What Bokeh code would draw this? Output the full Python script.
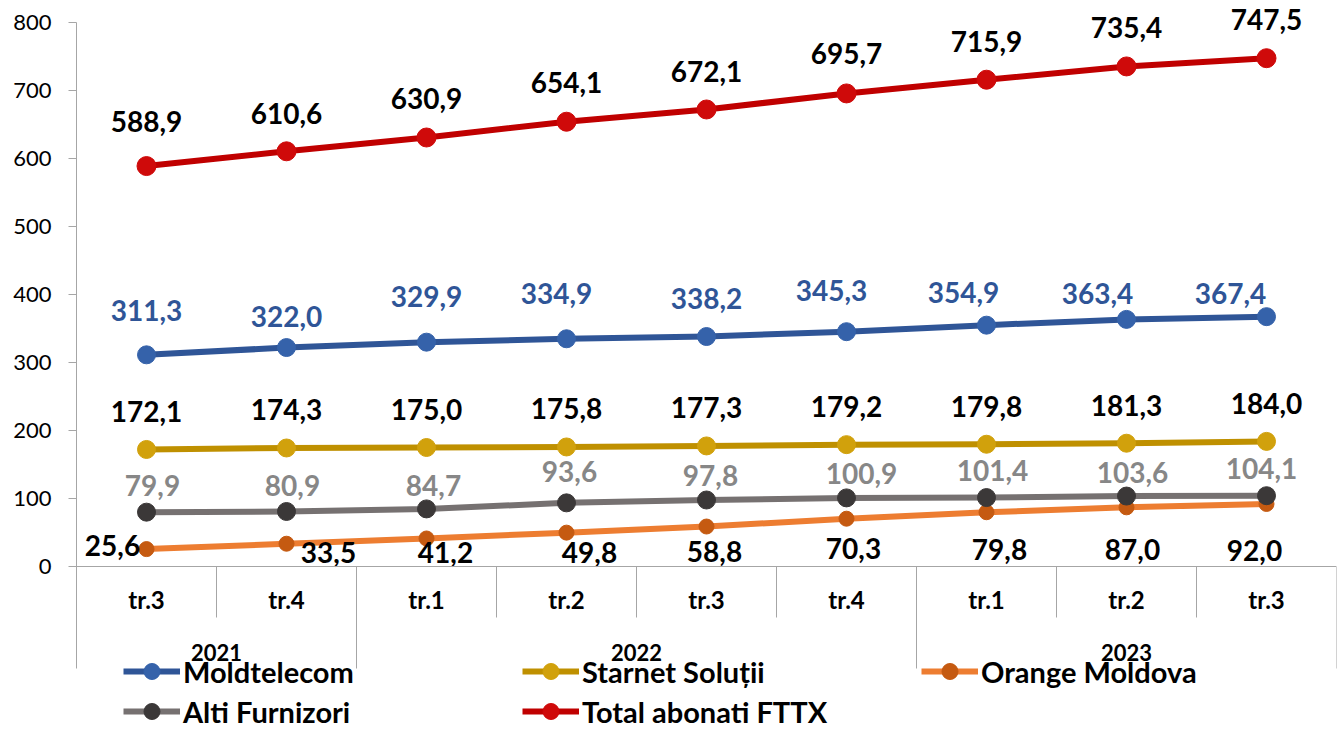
from bokeh.plotting import figure
from bokeh.models import (FactorRange, FixedTicker, ColumnDataSource, Legend,
                          LegendItem, Range1d)
from bokeh.core.properties import value
from bokeh.embed import file_html
from bokeh.resources import INLINE

# ---------------- data ----------------
years = ["2021", "2021", "2022", "2022", "2022", "2022", "2023", "2023", "2023"]
quarters = ["tr.3", "tr.4", "tr.1", "tr.2", "tr.3", "tr.4", "tr.1", "tr.2", "tr.3"]
year_labels = ["2021", "2022", "2023"]

moldtelecom = [311.3, 322.0, 329.9, 334.9, 338.2, 345.3, 354.9, 363.4, 367.4]
starnet = [172.1, 174.3, 175.0, 175.8, 177.3, 179.2, 179.8, 181.3, 184.0]
orange = [25.6, 33.5, 41.2, 49.8, 58.8, 70.3, 79.8, 87.0, 92.0]
alti = [79.9, 80.9, 84.7, 93.6, 97.8, 100.9, 101.4, 103.6, 104.1]
total = [588.9, 610.6, 630.9, 654.1, 672.1, 695.7, 715.9, 735.4, 747.5]

series_names = ["Moldtelecom", "Starnet Soluții", "Orange Moldova",
                "Alti Furnizori", "Total abonati FTTX"]
y_ticks = [0, 100, 200, 300, 400, 500, 600, 700, 800]

# ---------------- style ----------------
FONT = "Lato"
AXIS_GRAY = "#A6A6A6"
W, H = 1341, 729
FRAME_LEFT, FRAME_RIGHT_BORDER = 76, 5
Y0_PX, PX_PER_UNIT = 566, 0.68            # pixel row of value 0, pixels per unit
styles = {
    "Moldtelecom": dict(line="#2F5597", marker="#3562AA", label="#2F5597", lw=6, size=18,
                        dx=[0, 0, 0, -10, 0, -15, -23, -29, -36],
                        dy=[-44, -31, -46, -45, -38, -41, -33, -26, -23]),
    "Starnet Soluții": dict(line="#BF9000", marker="#D1A10C", label="#000000", lw=6, size=18,
                            dx=[0] * 9, dy=[-38] * 9),
    "Orange Moldova": dict(line="#ED7D31", marker="#C55A11", label="#000000", lw=6, size=15,
                           dx=[-34, 42, 19, 23, 8, 7, 13, 6, -12],
                           dy=[-4, 9, 14, 20, 25, 30, 37, 42, 47]),
    "Alti Furnizori": dict(line="#767171", marker="#3B3838", label="#878787", lw=6, size=18,
                           dx=[6, 6, 7, 3, 4, 15, 6, 6, -5],
                           dy=[-27, -26, -23, -31, -24, -24, -27, -24, -27]),
    "Total abonati FTTX": dict(line="#C00000", marker="#CF0A0A", label="#000000", lw=6, size=19,
                               dx=[0] * 9,
                               dy=[-45, -38, -39, -39, -38, -40, -38, -39, -39]),
}
BOX_BOTTOM = -150     # bottom of the category-axis box
SEP_SHORT = -75       # length of separators between quarters
YEAR_Y = -126         # vertical position of year labels

y_end = Y0_PX / PX_PER_UNIT
y_start = -(H - Y0_PX) / PX_PER_UNIT

factors = list(zip(years, quarters))
xr = FactorRange(factors=factors, factor_padding=0, subgroup_padding=0,
                 group_padding=0, range_padding=0)

p = figure(x_range=xr, y_range=Range1d(y_start, y_end), width=W, height=H,
           output_backend="svg", toolbar_location=None, title=None,
           min_border_left=FRAME_LEFT, min_border_right=FRAME_RIGHT_BORDER,
           min_border_top=0, min_border_bottom=0)
p.outline_line_color = None
p.xgrid.visible = False
p.ygrid.visible = False
p.background_fill_color = "white"
p.border_fill_color = "white"

# y axis
p.yaxis.ticker = FixedTicker(ticks=y_ticks)
p.yaxis.bounds = (BOX_BOTTOM, y_ticks[-1])
p.yaxis.axis_line_color = AXIS_GRAY
p.yaxis.major_tick_line_color = AXIS_GRAY
p.yaxis.major_tick_out = 8
p.yaxis.major_tick_in = 0
p.yaxis.minor_tick_line_color = None
p.yaxis.major_label_text_font = FONT
p.yaxis.major_label_text_font_size = "22px"
p.yaxis.major_label_text_color = "#000000"
p.yaxis.major_label_standoff = 17

# x axis (fixed at y=0 inside the frame)
p.xaxis.fixed_location = 0
p.xaxis.axis_line_color = AXIS_GRAY
p.xaxis.major_tick_line_color = None
p.xaxis.minor_tick_line_color = None
p.xaxis.major_tick_out = 0
p.xaxis.major_tick_in = 0
p.xaxis.major_label_text_font = FONT
p.xaxis.major_label_text_font_size = "24px"
p.xaxis.major_label_text_font_style = "bold"
p.xaxis.major_label_text_color = "#000000"
p.xaxis.major_label_standoff = 18
p.xaxis.group_text_color = None
p.xaxis.separator_line_color = None

# separators of the category box
n = len(factors)
sx, sy1 = [], []
for i in range(1, n + 1):
    edge = (i == n) or (years[i] != years[i - 1])
    sx.append(i)
    sy1.append(BOX_BOTTOM if edge else SEP_SHORT)
p.segment(x0=sx, y0=[0] * len(sx), x1=sx, y1=sy1, line_color=AXIS_GRAY, line_width=1)

# year labels
p.text(x=year_labels, y=[YEAR_Y] * len(year_labels), text=year_labels,
       text_font=value(FONT), text_font_size="22px", text_font_style="bold",
       text_align="center", text_baseline="middle", text_color="#000000")

# series
all_values = [moldtelecom, starnet, orange, alti, total]
items = []
label_sources = []
for name, vals in zip(series_names, all_values):
    st = styles[name]
    src = ColumnDataSource(dict(
        x=factors, y=vals,
        txt=[f"{v:.1f}".replace(".", ",") for v in vals],
        dx=st["dx"], dy=st["dy"]))
    lr = p.line("x", "y", source=src, line_color=st["line"], line_width=st["lw"],
                line_join="round")
    sr = p.scatter("x", "y", source=src, size=st["size"], fill_color=st["marker"],
                   line_color=st["marker"])
    items.append(LegendItem(label=name, renderers=[lr, sr]))
    label_sources.append((src, st))

for src, st in label_sources:
    p.text("x", "y", text="txt", source=src, x_offset="dx", y_offset="dy",
           text_font=value(FONT), text_font_size="28px", text_font_style="bold",
           text_color=st["label"], text_align="center", text_baseline="middle")

legend = Legend(items=items, location=(47, -2), orientation="horizontal", ncols=3,
                glyph_width=57, glyph_height=40, label_height=40, label_width=339,
                label_standoff=3, spacing=0, padding=0, margin=0,
                border_line_color=None, background_fill_alpha=0,
                label_text_font=FONT, label_text_font_style="bold",
                label_text_font_size="29px", label_text_color="#000000")
p.add_layout(legend)

open("out.html", "w").write(file_html(p, INLINE))
